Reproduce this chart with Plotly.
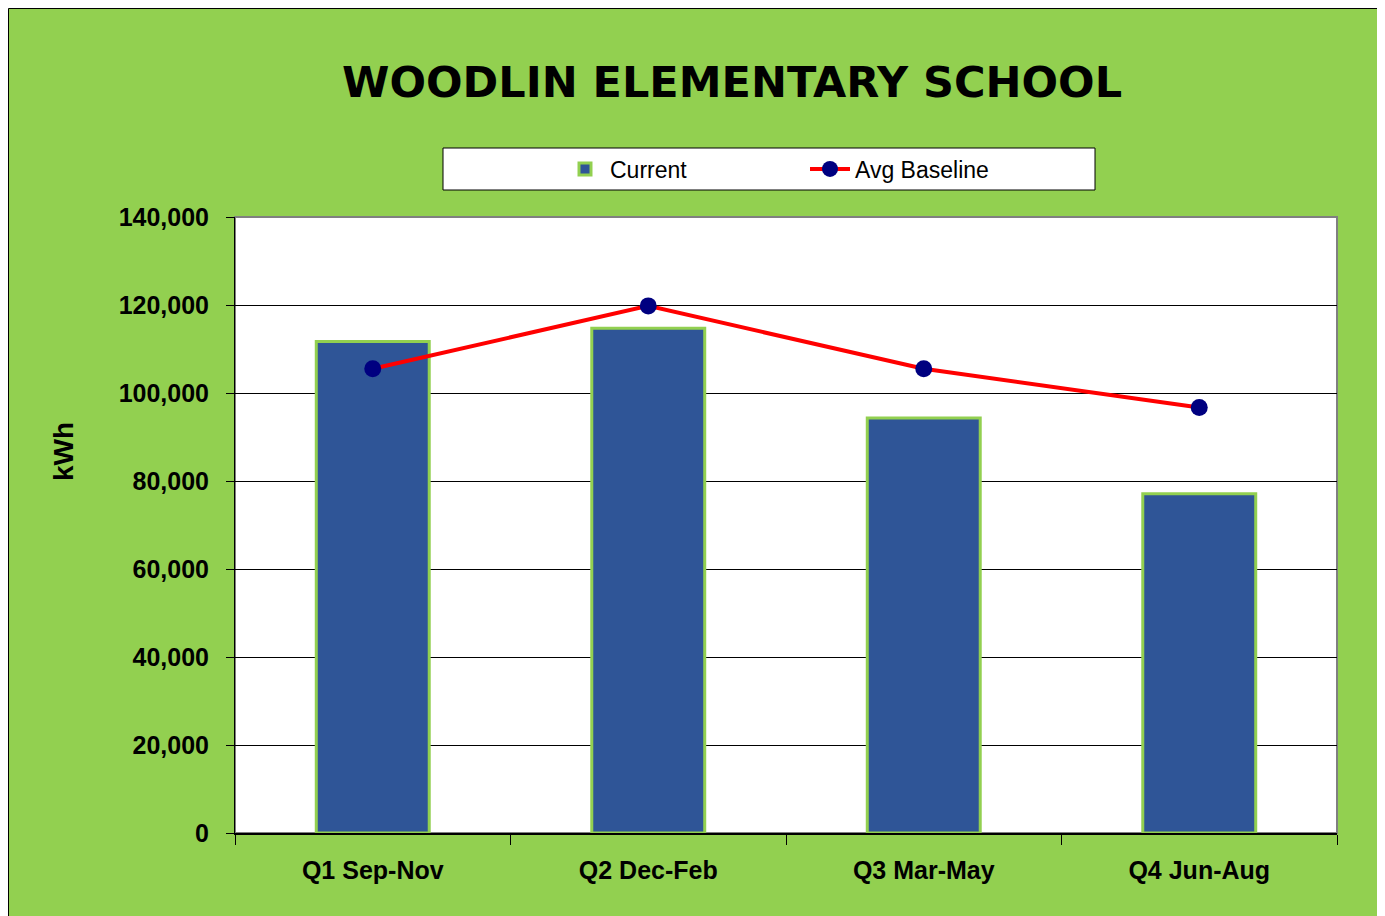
import plotly.graph_objects as go

categories = ["Q1 Sep-Nov", "Q2 Dec-Feb", "Q3 Mar-May", "Q4 Jun-Aug"]
current = [111700, 114700, 94300, 77100]
avg_baseline = [105500, 119800, 105500, 96700]
y_ticks = [0, 20000, 40000, 60000, 80000, 100000, 120000, 140000]
y_tick_labels = ["0", "20,000", "40,000", "60,000", "80,000", "100,000", "120,000", "140,000"]

OFF = 8  # page offset of the figure
W, H = 1385, 916
L, R, T, B = 235 - OFF, 48 + OFF, 217 - OFF, 83 + OFF
pw, ph = W - L - R, H - T - B

def px(x):  # reference page x -> paper
    return (x - OFF - L) / pw

def py(y):  # reference page y -> paper
    return (H - B - (y - OFF)) / ph

GREEN = "#92D050"
FONT = "Liberation Sans"

fig = go.Figure()
fig.add_trace(go.Bar(
    x=categories, y=current, name="Current", width=0.41,
    marker=dict(color="#2F5597", line=dict(color=GREEN, width=3)),
))
fig.add_trace(go.Scatter(
    x=categories, y=avg_baseline, name="Avg Baseline", mode="lines+markers",
    line=dict(color="#FF0000", width=4),
    marker=dict(color="#000080", size=17),
))

shapes = [
    dict(type="rect", xref="paper", yref="paper", x0=px(8.5), x1=px(1381.5), y0=py(930), y1=py(8.5),
         fillcolor=GREEN, line=dict(color="black", width=1), layer="below"),
    dict(type="rect", xref="paper", yref="paper", x0=0, x1=1, y0=0, y1=1,
         fillcolor="white", line=dict(color="#808080", width=2), layer="below"),
    dict(type="rect", xref="paper", yref="paper", x0=px(443), x1=px(1095), y0=py(190), y1=py(148),
         fillcolor="white", line=dict(color="black", width=1), layer="below"),
]

fig.update_layout(
    width=W, height=H,
    margin=dict(l=L, r=R, t=T, b=B),
    paper_bgcolor="white", plot_bgcolor="white",
    shapes=shapes,
    showlegend=True,
    legend=dict(orientation="h", x=px(560), y=py(169), xanchor="left", yanchor="middle",
                bgcolor="rgba(0,0,0,0)", entrywidth=190, entrywidthmode="pixels",
                font=dict(family=FONT, size=23, color="black"), itemwidth=40),
    annotations=[
        dict(text="WOODLIN ELEMENTARY SCHOOL", xref="paper", yref="paper", x=px(732), y=py(82),
             xanchor="center", yanchor="middle", showarrow=False,
             font=dict(family="DejaVu Sans", size=43, color="black", weight="bold")),
        dict(text="kWh", xref="paper", yref="paper", x=px(63), y=py(452), textangle=-90,
             xanchor="center", yanchor="middle", showarrow=False,
             font=dict(family=FONT, size=28, color="black", weight="bold")),
    ],
)
fig.update_xaxes(
    showline=True, linecolor="black", linewidth=2, mirror=False,
    ticks="outside", tickson="boundaries", ticklen=10, tickcolor="black",
    showgrid=False, ticklabelstandoff=14,
    tickfont=dict(family=FONT, size=25, color="black", weight="bold"),
)
fig.update_yaxes(
    range=[0, 140000], tickvals=y_ticks, ticktext=y_tick_labels,
    showline=True, linecolor="black", linewidth=1,
    ticks="outside", ticklen=8, tickcolor="black",
    showgrid=True, gridcolor="black", gridwidth=1, zeroline=False,
    ticklabelstandoff=12,
    tickfont=dict(family=FONT, size=25, color="black", weight="bold"),
)

fig.write_html("out.html")
